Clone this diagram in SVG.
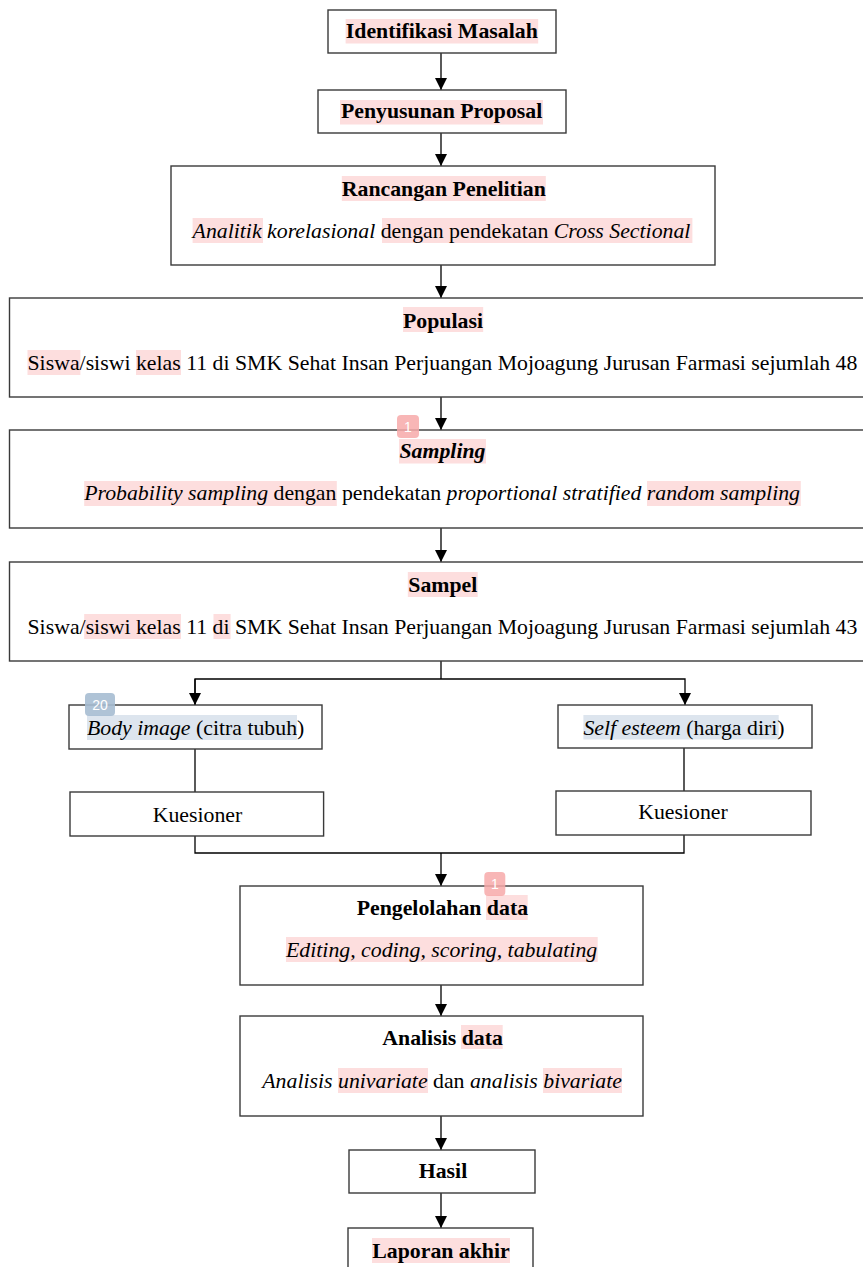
<svg xmlns="http://www.w3.org/2000/svg" width="863" height="1267" viewBox="0 0 863 1267">
<defs>
<style>
.box{fill:#fff;stroke:#3a3a3a;stroke-width:1.4}
.t{font-family:"Liberation Serif","Times New Roman",serif;font-size:21.8px;fill:#000}
.b{font-weight:bold}
.i{font-style:italic}
.hl{fill:#fddede}
.hb{fill:#dde5ee}
.c{fill:none;stroke:#000;stroke-width:1.3}
.badge-p{fill:#f7a9a9;opacity:0.85}
.badge-b{fill:#a6bcd2;opacity:0.9}
.bt{font-family:"Liberation Sans",Arial,sans-serif;font-size:14px;fill:#fff;text-anchor:middle}
</style>
<marker id="ah" viewBox="0 0 12 12" refX="12" refY="6" markerWidth="12" markerHeight="12" markerUnits="userSpaceOnUse" orient="auto">
<path d="M0,0 L12,6 L0,12 z" fill="#000"/>
</marker>
</defs>

<g id="connectors">
<line class="c" x1="441" y1="52" x2="441" y2="90" marker-end="url(#ah)"/>
<line class="c" x1="441" y1="132" x2="441" y2="166" marker-end="url(#ah)"/>
<line class="c" x1="441" y1="265" x2="441" y2="298" marker-end="url(#ah)"/>
<line class="c" x1="441" y1="397" x2="441" y2="430" marker-end="url(#ah)"/>
<line class="c" x1="441" y1="528" x2="441" y2="562" marker-end="url(#ah)"/>
<polyline class="c" points="441,661 441,679"/>
<polyline class="c" points="195,705 195,679 685,679 685,705" marker-start="url(#ah)" marker-end="url(#ah)" style="marker-start:none"/>
<line class="c" x1="195" y1="679" x2="195" y2="705" marker-end="url(#ah)"/>
<line class="c" x1="195" y1="749" x2="195" y2="792"/>
<line class="c" x1="684" y1="748" x2="684" y2="791"/>
<polyline class="c" points="195,836 195,853 684,853 684,835"/>
<line class="c" x1="441" y1="853" x2="441" y2="886" marker-end="url(#ah)"/>
<line class="c" x1="441" y1="985" x2="441" y2="1016" marker-end="url(#ah)"/>
<line class="c" x1="441" y1="1116" x2="441" y2="1150" marker-end="url(#ah)"/>
<line class="c" x1="441" y1="1193" x2="441" y2="1228" marker-end="url(#ah)"/>
</g>

<g id="identifikasi">
<rect class="box" x="328" y="10" width="228" height="43"/>
<rect class="hl" x="345.6" y="19" width="192.6" height="24.5"/>
<text class="t b" x="441.8" y="38" text-anchor="middle">Identifikasi Masalah</text>
</g>

<g id="proposal">
<rect class="box" x="318" y="90" width="248" height="43"/>
<rect class="hl" x="340" y="100" width="203" height="24.5"/>
<text class="t b" x="441.6" y="118" text-anchor="middle">Penyusunan Proposal</text>
</g>

<g id="rancangan">
<rect class="box" x="171" y="166" width="544" height="99"/>
<rect class="hl" x="341.8" y="176" width="204" height="25"/>
<text class="t b" x="443.8" y="196" text-anchor="middle">Rancangan Penelitian</text>
<rect class="hl" x="192.6" y="218" width="70.4" height="25"/>
<rect class="hl" x="382" y="218" width="310.4" height="25"/>
<text class="t" x="192.6" y="238"><tspan class="i">Analitik korelasional</tspan> dengan pendekatan <tspan class="i">Cross Sectional</tspan></text>
</g>

<g id="populasi">
<rect class="box" x="9.5" y="298" width="870" height="99"/>
<rect class="hl" x="403" y="307" width="80.2" height="25"/>
<text class="t b" x="443" y="328" text-anchor="middle">Populasi</text>
<rect class="hl" x="27.5" y="350" width="52.9" height="25"/>
<rect class="hl" x="136" y="350" width="45" height="25"/>
<text class="t" x="27.5" y="370">Siswa/siswi kelas 11 di SMK Sehat Insan Perjuangan Mojoagung Jurusan Farmasi sejumlah 48</text>
</g>

<g id="sampling">
<rect class="box" x="9.5" y="430" width="870" height="98"/>
<rect class="hl" x="399" y="439" width="87" height="24.5"/>
<text class="t b i" x="442.5" y="458" text-anchor="middle">Sampling</text>
<rect class="hl" x="84.2" y="481" width="252.6" height="25"/>
<rect class="hl" x="647" y="481" width="153.8" height="25"/>
<text class="t" x="84.2" y="500"><tspan class="i">Probability sampling</tspan> dengan pendekatan <tspan class="i">proportional stratified random sampling</tspan></text>
<rect class="badge-p" x="397" y="415" width="22" height="23" rx="4"/>
<text class="bt" x="408" y="432">1</text>
</g>

<g id="sampel">
<rect class="box" x="9.5" y="562" width="870" height="99"/>
<rect class="hl" x="407.8" y="572" width="69.9" height="25"/>
<text class="t b" x="442.8" y="592" text-anchor="middle">Sampel</text>
<rect class="hl" x="84.2" y="614" width="96.8" height="25"/>
<rect class="hl" x="213.5" y="614" width="17.1" height="25"/>
<text class="t" x="27.5" y="634">Siswa/siswi kelas 11 di SMK Sehat Insan Perjuangan Mojoagung Jurusan Farmasi sejumlah 43</text>
</g>

<g id="body-image">
<rect class="box" x="69" y="705" width="253" height="44"/>
<rect class="hb" x="87" y="715" width="210" height="25"/>
<text class="t" x="87" y="735"><tspan class="i">Body image</tspan> (citra tubuh)</text>
<rect class="badge-b" x="85" y="693" width="30" height="23" rx="4"/>
<text class="bt" x="100" y="710">20</text>
</g>

<g id="self-esteem">
<rect class="box" x="558" y="705" width="254" height="43"/>
<rect class="hb" x="583.4" y="715" width="195.3" height="24.5"/>
<text class="t" x="583.4" y="735"><tspan class="i">Self esteem</tspan> (harga diri)</text>
</g>

<g id="kuesioner-1">
<rect class="box" x="70" y="792" width="253.6" height="44"/>
<text class="t" x="197.5" y="822" text-anchor="middle">Kuesioner</text>
</g>

<g id="kuesioner-2">
<rect class="box" x="556" y="791" width="255" height="44"/>
<text class="t" x="683" y="819" text-anchor="middle">Kuesioner</text>
</g>

<g id="pengelolahan">
<rect class="box" x="240" y="886" width="403" height="99"/>
<rect class="hl" x="486" y="895" width="41.7" height="25"/>
<text class="t b" x="356.7" y="915">Pengelolahan data</text>
<rect class="hl" x="286" y="937" width="311.7" height="25"/>
<text class="t i" x="286" y="957">Editing, coding, scoring, tabulating</text>
<rect class="badge-p" x="484.3" y="872" width="21" height="24" rx="4"/>
<text class="bt" x="494.8" y="889">1</text>
</g>

<g id="analisis">
<rect class="box" x="240" y="1016" width="403" height="100"/>
<rect class="hl" x="461" y="1025" width="41.7" height="24"/>
<text class="t b" x="382.3" y="1045">Analisis data</text>
<rect class="hl" x="338" y="1068" width="90" height="25"/>
<rect class="hl" x="543" y="1068" width="79" height="25"/>
<text class="t" x="262.3" y="1088"><tspan class="i">Analisis univariate</tspan> dan <tspan class="i">analisis bivariate</tspan></text>
</g>

<g id="hasil">
<rect class="box" x="349" y="1150" width="186" height="43"/>
<text class="t b" x="443" y="1178" text-anchor="middle">Hasil</text>
</g>

<g id="laporan">
<rect class="box" x="348" y="1228" width="185" height="45"/>
<rect class="hl" x="372" y="1238" width="138" height="25"/>
<text class="t b" x="441" y="1258" text-anchor="middle">Laporan akhir</text>
</g>
</svg>
